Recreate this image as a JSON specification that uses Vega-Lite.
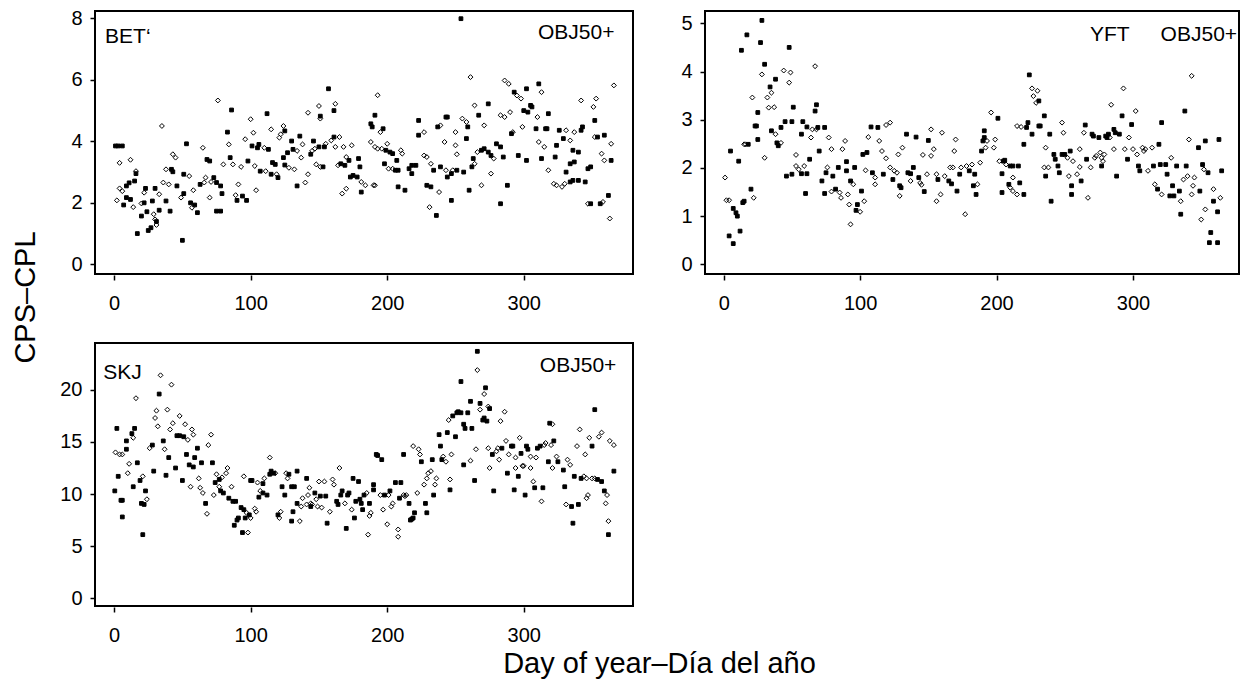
{
"$schema": "https://vega.github.io/schema/vega-lite/v6.json",
"background": "white",
"padding": {"left": 10, "top": 7, "right": 0, "bottom": 0},
"bounds": "flush",
"columns": 2,
"spacing": {"row": 69, "column": 72},
"datasets": {
"one": [{}],
"bet": [
{"d":1,"v":3.85,"k":"s"},{"d":3,"v":3.85,"k":"s"},{"d":6,"v":3.85,"k":"s"},{"d":4,"v":3.3,"k":"o"},{"d":12,"v":3.4,"k":"o"},{"d":2,"v":2.08,"k":"o"},{"d":4,"v":2.47,"k":"o"},{"d":6,"v":2.38,"k":"o"},{"d":7,"v":1.93,"k":"s"},{"d":9,"v":2.55,"k":"s"},{"d":11,"v":2.65,"k":"s"},{"d":9,"v":2.17,"k":"s"},{"d":12,"v":2.11,"k":"s"},{"d":14,"v":1.86,"k":"o"},{"d":15,"v":2.71,"k":"s"},{"d":16,"v":3.03,"k":"o"},{"d":16,"v":2.95,"k":"s"},{"d":17,"v":1.0,"k":"s"},{"d":20,"v":1.57,"k":"s"},{"d":20,"v":1.98,"k":"o"},{"d":22,"v":2.33,"k":"o"},{"d":23,"v":2.47,"k":"s"},{"d":22,"v":2.0,"k":"s"},{"d":24,"v":1.71,"k":"s"},{"d":25,"v":1.1,"k":"s"},{"d":27,"v":1.19,"k":"s"},{"d":28,"v":2.06,"k":"s"},{"d":29,"v":1.63,"k":"o"},{"d":30,"v":1.46,"k":"o"},{"d":31,"v":1.39,"k":"s"},{"d":31,"v":1.28,"k":"o"},{"d":30,"v":2.47,"k":"s"},{"d":33,"v":2.28,"k":"o"},{"d":33,"v":1.76,"k":"s"},{"d":35,"v":4.5,"k":"o"},{"d":36,"v":2.66,"k":"o"},{"d":38,"v":2.06,"k":"s"},{"d":38,"v":3.09,"k":"o"},{"d":40,"v":2.6,"k":"o"},{"d":41,"v":1.73,"k":"s"},{"d":42,"v":3.09,"k":"s"},{"d":43,"v":3.58,"k":"o"},{"d":45,"v":3.47,"k":"o"},{"d":46,"v":2.55,"k":"s"},{"d":43,"v":3.01,"k":"s"},{"d":49,"v":2.17,"k":"o"},{"d":50,"v":0.78,"k":"s"},{"d":51,"v":2.93,"k":"s"},{"d":51,"v":2.3,"k":"s"},{"d":53,"v":3.92,"k":"s"},{"d":55,"v":2.87,"k":"o"},{"d":56,"v":2.0,"k":"s"},{"d":57,"v":1.84,"k":"o"},{"d":59,"v":1.93,"k":"s"},{"d":61,"v":1.68,"k":"s"},{"d":58,"v":2.41,"k":"o"},{"d":63,"v":2.6,"k":"s"},{"d":65,"v":3.79,"k":"o"},{"d":66,"v":2.66,"k":"o"},{"d":67,"v":2.82,"k":"o"},{"d":68,"v":3.41,"k":"s"},{"d":70,"v":3.36,"k":"s"},{"d":70,"v":2.17,"k":"o"},{"d":71,"v":2.68,"k":"o"},{"d":73,"v":2.82,"k":"s"},{"d":75,"v":2.66,"k":"s"},{"d":76,"v":5.33,"k":"o"},{"d":75,"v":1.73,"k":"s"},{"d":78,"v":1.73,"k":"s"},{"d":78,"v":2.55,"k":"s"},{"d":79,"v":2.3,"k":"s"},{"d":80,"v":3.25,"k":"o"},{"d":83,"v":4.3,"k":"s"},{"d":84,"v":3.9,"k":"o"},{"d":86,"v":5.02,"k":"s"},{"d":85,"v":3.47,"k":"s"},{"d":87,"v":3.25,"k":"o"},{"d":89,"v":2.25,"k":"o"},{"d":91,"v":2.6,"k":"o"},{"d":90,"v":2.08,"k":"s"},{"d":93,"v":3.17,"k":"o"},{"d":94,"v":2.22,"k":"s"},{"d":96,"v":4.07,"k":"o"},{"d":97,"v":2.08,"k":"s"},{"d":98,"v":3.36,"k":"s"},{"d":100,"v":4.72,"k":"o"},{"d":101,"v":3.85,"k":"s"},{"d":102,"v":4.28,"k":"o"},{"d":103,"v":3.2,"k":"o"},{"d":104,"v":2.41,"k":"o"},{"d":105,"v":3.79,"k":"s"},{"d":106,"v":3.9,"k":"s"},{"d":107,"v":3.03,"k":"s"},{"d":110,"v":3.79,"k":"o"},{"d":111,"v":3.03,"k":"o"},{"d":112,"v":4.9,"k":"s"},{"d":113,"v":3.74,"k":"s"},{"d":115,"v":2.93,"k":"s"},{"d":116,"v":3.31,"k":"s"},{"d":115,"v":4.39,"k":"o"},{"d":118,"v":3.25,"k":"s"},{"d":119,"v":2.93,"k":"o"},{"d":120,"v":2.82,"k":"s"},{"d":121,"v":4.12,"k":"o"},{"d":122,"v":4.23,"k":"o"},{"d":124,"v":4.5,"k":"o"},{"d":125,"v":4.34,"k":"s"},{"d":124,"v":3.47,"k":"s"},{"d":125,"v":3.23,"k":"s"},{"d":127,"v":3.63,"k":"s"},{"d":128,"v":3.14,"k":"o"},{"d":130,"v":4.01,"k":"s"},{"d":131,"v":3.74,"k":"s"},{"d":132,"v":3.09,"k":"o"},{"d":134,"v":2.55,"k":"s"},{"d":134,"v":3.69,"k":"o"},{"d":136,"v":4.17,"k":"s"},{"d":137,"v":3.47,"k":"o"},{"d":138,"v":3.9,"k":"o"},{"d":140,"v":2.66,"k":"o"},{"d":142,"v":2.93,"k":"o"},{"d":142,"v":4.93,"k":"o"},{"d":144,"v":3.58,"k":"s"},{"d":145,"v":3.69,"k":"o"},{"d":146,"v":4.01,"k":"s"},{"d":148,"v":3.25,"k":"o"},{"d":150,"v":5.15,"k":"o"},{"d":151,"v":4.82,"k":"s"},{"d":147,"v":3.76,"k":"o"},{"d":150,"v":3.82,"k":"s"},{"d":151,"v":3.17,"k":"o"},{"d":151,"v":4.74,"k":"o"},
{"d":153,"v":3.17,"k":"s"},{"d":154,"v":3.82,"k":"s"},{"d":155,"v":3.92,"k":"o"},{"d":157,"v":5.71,"k":"s"},{"d":159,"v":4.03,"k":"o"},{"d":161,"v":4.14,"k":"s"},{"d":161,"v":5.0,"k":"s"},{"d":162,"v":5.22,"k":"o"},{"d":162,"v":3.82,"k":"o"},{"d":165,"v":4.14,"k":"o"},{"d":168,"v":3.82,"k":"o"},{"d":164,"v":3.22,"k":"o"},{"d":166,"v":3.27,"k":"s"},{"d":169,"v":3.22,"k":"s"},{"d":172,"v":3.38,"k":"s"},{"d":170,"v":3.49,"k":"o"},{"d":174,"v":3.87,"k":"o"},{"d":173,"v":2.84,"k":"s"},{"d":175,"v":2.89,"k":"s"},{"d":178,"v":2.84,"k":"s"},{"d":179,"v":3.44,"k":"s"},{"d":180,"v":3.17,"k":"s"},{"d":181,"v":2.68,"k":"o"},{"d":184,"v":2.57,"k":"o"},{"d":167,"v":2.3,"k":"o"},{"d":170,"v":2.46,"k":"o"},{"d":181,"v":2.35,"k":"s"},{"d":190,"v":2.57,"k":"o"},{"d":191,"v":2.57,"k":"o"},{"d":193,"v":5.5,"k":"o"},{"d":191,"v":4.85,"k":"s"},{"d":188,"v":4.57,"k":"s"},{"d":189,"v":4.47,"k":"s"},{"d":195,"v":4.3,"k":"o"},{"d":197,"v":4.41,"k":"s"},{"d":188,"v":3.98,"k":"o"},{"d":191,"v":3.82,"k":"o"},{"d":193,"v":3.76,"k":"o"},{"d":196,"v":3.76,"k":"o"},{"d":200,"v":3.92,"k":"o"},{"d":199,"v":3.71,"k":"s"},{"d":202,"v":3.65,"k":"s"},{"d":204,"v":3.6,"k":"s"},{"d":207,"v":3.38,"k":"s"},{"d":210,"v":3.71,"k":"o"},{"d":211,"v":3.6,"k":"o"},{"d":198,"v":3.27,"k":"s"},{"d":201,"v":3.11,"k":"o"},{"d":204,"v":3.11,"k":"o"},{"d":206,"v":3.06,"k":"s"},{"d":208,"v":3.06,"k":"s"},{"d":208,"v":2.52,"k":"s"},{"d":213,"v":2.41,"k":"s"},{"d":216,"v":3.11,"k":"s"},{"d":218,"v":2.95,"k":"s"},{"d":218,"v":3.22,"k":"s"},{"d":221,"v":3.22,"k":"s"},{"d":223,"v":4.68,"k":"s"},{"d":223,"v":4.2,"k":"s"},{"d":227,"v":4.3,"k":"o"},{"d":229,"v":2.57,"k":"s"},{"d":232,"v":2.52,"k":"s"},{"d":227,"v":3.54,"k":"o"},{"d":229,"v":3.49,"k":"o"},{"d":232,"v":3.27,"k":"o"},{"d":234,"v":3.06,"k":"s"},{"d":237,"v":4.47,"k":"s"},{"d":239,"v":4.52,"k":"o"},{"d":242,"v":3.98,"k":"o"},{"d":243,"v":4.79,"k":"s"},{"d":244,"v":4.79,"k":"s"},{"d":250,"v":4.3,"k":"o"},{"d":250,"v":3.87,"k":"o"},{"d":251,"v":3.58,"k":"o"},{"d":239,"v":3.17,"k":"s"},{"d":243,"v":3.06,"k":"o"},{"d":244,"v":2.84,"k":"s"},{"d":247,"v":2.95,"k":"s"},{"d":248,"v":3.06,"k":"o"},{"d":251,"v":3.06,"k":"s"},{"d":256,"v":3.0,"k":"s"},{"d":231,"v":1.86,"k":"o"},{"d":236,"v":1.59,"k":"s"},{"d":238,"v":2.35,"k":"o"},{"d":247,"v":2.08,"k":"s"},{"d":260,"v":2.41,"k":"s"},{"d":269,"v":2.57,"k":"o"},{"d":261,"v":6.09,"k":"o"},{"d":254,"v":7.99,"k":"s"},{"d":255,"v":4.74,"k":"o"},{"d":258,"v":4.63,"k":"o"},{"d":259,"v":4.47,"k":"s"},{"d":258,"v":4.09,"k":"s"},{"d":264,"v":5.17,"k":"o"},{"d":267,"v":4.85,"k":"s"},{"d":271,"v":4.52,"k":"o"},{"d":274,"v":5.22,"k":"s"},{"d":266,"v":3.65,"k":"o"},{"d":269,"v":3.71,"k":"s"},{"d":271,"v":3.76,"k":"s"},{"d":274,"v":3.65,"k":"s"},{"d":276,"v":3.54,"k":"s"},{"d":278,"v":3.44,"k":"o"},{"d":263,"v":3.44,"k":"s"},{"d":264,"v":3.27,"k":"o"},{"d":262,"v":3.17,"k":"s"},{"d":276,"v":2.95,"k":"o"},{"d":280,"v":3.92,"k":"s"},{"d":283,"v":3.82,"k":"s"},{"d":285,"v":3.49,"k":"s"},{"d":283,"v":1.97,"k":"s"},{"d":283,"v":4.85,"k":"o"},{"d":286,"v":4.79,"k":"o"},{"d":286,"v":5.98,"k":"o"},{"d":289,"v":5.87,"k":"o"},{"d":290,"v":4.95,"k":"o"},{"d":288,"v":2.57,"k":"s"},{"d":291,"v":4.25,"k":"s"},{"d":292,"v":4.3,"k":"o"},{"d":293,"v":5.6,"k":"s"},{"d":295,"v":5.49,"k":"o"},{"d":298,"v":5.39,"k":"o"},{"d":299,"v":4.47,"k":"o"},{"d":296,"v":3.54,"k":"s"},{"d":300,"v":5.0,"k":"s"},{"d":302,"v":5.71,"k":"s"},{"d":303,"v":4.95,"k":"s"},{"d":305,"v":5.17,"k":"s"},{"d":306,"v":5.12,"k":"s"},{"d":311,"v":5.87,"k":"s"},{"d":313,"v":5.6,"k":"o"},{"d":310,"v":4.79,"k":"o"},{"d":302,"v":3.38,"k":"s"},{"d":309,"v":4.41,"k":"s"},{"d":311,"v":3.98,"k":"o"},{"d":313,"v":3.44,"k":"s"},{"d":315,"v":3.82,"k":"o"},{"d":316,"v":4.41,"k":"s"},{"d":318,"v":4.9,"k":"s"},{"d":317,"v":4.41,"k":"s"},{"d":318,"v":3.06,"k":"o"},{"d":323,"v":3.49,"k":"s"},{"d":324,"v":3.87,"k":"s"},{"d":326,"v":4.36,"k":"s"},{"d":329,"v":4.09,"k":"s"},{"d":331,"v":4.36,"k":"o"},{"d":334,"v":4.03,"k":"o"},{"d":336,"v":3.71,"k":"s"},{"d":337,"v":4.3,"k":"o"},{"d":342,"v":4.36,"k":"s"},{"d":343,"v":4.47,"k":"s"},{"d":322,"v":2.62,"k":"o"},{"d":324,"v":2.57,"k":"o"},{"d":328,"v":2.52,"k":"o"},{"d":330,"v":2.62,"k":"o"},{"d":334,"v":2.68,"k":"s"},{"d":336,"v":2.73,"k":"s"},{"d":340,"v":2.73,"k":"s"},{"d":345,"v":2.68,"k":"s"},{"d":331,"v":3.0,"k":"s"},{"d":334,"v":3.27,"k":"s"},{"d":337,"v":3.33,"k":"s"},{"d":340,"v":3.65,"k":"s"},{"d":347,"v":1.97,"k":"o"},{"d":349,"v":1.97,"k":"s"},{"d":356,"v":1.97,"k":"s"},{"d":358,"v":2.03,"k":"o"},{"d":362,"v":2.24,"k":"s"},{"d":363,"v":1.49,"k":"o"},{"d":342,"v":5.33,"k":"o"},{"d":351,"v":5.12,"k":"o"},{"d":353,"v":5.39,"k":"o"},{"d":352,"v":4.68,"k":"s"},{"d":352,"v":4.14,"k":"o"},{"d":354,"v":4.14,"k":"s"},{"d":359,"v":4.2,"k":"s"},{"d":357,"v":3.6,"k":"o"},{"d":359,"v":3.38,"k":"o"},{"d":364,"v":3.38,"k":"s"},{"d":366,"v":5.82,"k":"o"},{"d":364,"v":3.92,"k":"o"},{"d":349,"v":3.17,"k":"s"},{"d":347,"v":3.11,"k":"s"}
],
"yft": [
{"d":1,"v":1.8,"k":"o"},{"d":2,"v":1.33,"k":"o"},{"d":4,"v":1.33,"k":"o"},{"d":4,"v":0.59,"k":"s"},{"d":5,"v":2.35,"k":"s"},{"d":7,"v":0.43,"k":"s"},{"d":7,"v":1.16,"k":"s"},{"d":9,"v":1.07,"k":"s"},{"d":10,"v":1.0,"k":"s"},{"d":11,"v":2.14,"k":"s"},{"d":12,"v":0.69,"k":"s"},{"d":13,"v":4.44,"k":"s"},{"d":14,"v":1.28,"k":"s"},{"d":15,"v":1.31,"k":"s"},{"d":15,"v":2.49,"k":"o"},{"d":16,"v":2.49,"k":"o"},{"d":17,"v":4.76,"k":"s"},{"d":18,"v":2.49,"k":"s"},{"d":20,"v":1.56,"k":"s"},{"d":21,"v":3.46,"k":"o"},{"d":22,"v":1.38,"k":"o"},{"d":23,"v":2.87,"k":"s"},{"d":24,"v":2.87,"k":"s"},{"d":25,"v":3.15,"k":"s"},{"d":25,"v":2.59,"k":"s"},{"d":27,"v":4.6,"k":"s"},{"d":28,"v":5.06,"k":"s"},{"d":28,"v":3.94,"k":"o"},{"d":30,"v":4.15,"k":"s"},{"d":30,"v":2.21,"k":"o"},{"d":32,"v":3.46,"k":"o"},{"d":33,"v":3.25,"k":"o"},{"d":34,"v":3.68,"k":"s"},{"d":35,"v":3.56,"k":"o"},{"d":37,"v":3.26,"k":"o"},{"d":38,"v":3.84,"k":"s"},{"d":35,"v":2.77,"k":"s"},{"d":38,"v":2.7,"k":"o"},{"d":39,"v":2.52,"k":"s"},{"d":40,"v":2.46,"k":"s"},{"d":42,"v":2.52,"k":"o"},{"d":42,"v":2.84,"k":"s"},{"d":44,"v":4.02,"k":"o"},{"d":45,"v":2.96,"k":"s"},{"d":46,"v":1.83,"k":"s"},{"d":48,"v":4.5,"k":"s"},{"d":49,"v":3.98,"k":"o"},{"d":48,"v":3.77,"k":"o"},{"d":50,"v":2.96,"k":"s"},{"d":50,"v":1.87,"k":"s"},{"d":51,"v":3.26,"k":"s"},{"d":53,"v":2.27,"k":"o"},{"d":53,"v":2.04,"k":"o"},{"d":55,"v":1.97,"k":"o"},{"d":57,"v":2.7,"k":"s"},{"d":57,"v":1.88,"k":"s"},{"d":58,"v":2.96,"k":"s"},{"d":59,"v":2.04,"k":"o"},{"d":60,"v":1.47,"k":"s"},{"d":61,"v":2.85,"k":"s"},{"d":61,"v":1.88,"k":"s"},{"d":63,"v":2.18,"k":"s"},{"d":64,"v":2.63,"k":"o"},{"d":65,"v":2.8,"k":"o"},{"d":67,"v":4.11,"k":"o"},{"d":68,"v":3.31,"k":"s"},{"d":67,"v":3.18,"k":"s"},{"d":68,"v":2.8,"k":"o"},{"d":69,"v":2.84,"k":"s"},{"d":70,"v":2.35,"k":"s"},{"d":72,"v":1.73,"k":"s"},{"d":74,"v":2.84,"k":"s"},{"d":74,"v":1.47,"k":"s"},{"d":75,"v":1.9,"k":"s"},{"d":76,"v":2.01,"k":"o"},{"d":77,"v":2.63,"k":"o"},{"d":79,"v":2.39,"k":"o"},{"d":79,"v":1.51,"k":"o"},{"d":80,"v":1.83,"k":"s"},{"d":82,"v":1.56,"k":"s"},{"d":84,"v":2.01,"k":"s"},{"d":85,"v":1.49,"k":"o"},{"d":86,"v":1.38,"k":"o"},{"d":87,"v":2.39,"k":"o"},{"d":89,"v":2.56,"k":"o"},{"d":90,"v":2.13,"k":"s"},{"d":90,"v":1.94,"k":"s"},{"d":91,"v":1.45,"k":"o"},{"d":92,"v":1.24,"k":"o"},{"d":93,"v":0.83,"k":"o"},{"d":93,"v":1.73,"k":"s"},{"d":95,"v":1.66,"k":"o"},{"d":96,"v":2.01,"k":"s"},{"d":97,"v":1.12,"k":"s"},{"d":98,"v":1.24,"k":"s"},{"d":100,"v":1.09,"k":"o"},{"d":101,"v":1.52,"k":"s"},{"d":102,"v":2.28,"k":"s"},{"d":103,"v":1.31,"k":"o"},{"d":104,"v":1.95,"k":"o"},{"d":105,"v":2.32,"k":"s"},{"d":106,"v":2.64,"k":"o"},{"d":108,"v":2.85,"k":"s"},{"d":109,"v":1.9,"k":"s"},{"d":111,"v":1.8,"k":"o"},{"d":111,"v":1.66,"k":"o"},{"d":113,"v":2.84,"k":"s"},{"d":114,"v":2.56,"k":"o"},{"d":116,"v":2.35,"k":"o"},{"d":117,"v":1.87,"k":"s"},{"d":119,"v":2.2,"k":"o"},{"d":119,"v":2.89,"k":"o"},{"d":122,"v":2.94,"k":"o"},{"d":122,"v":2.01,"k":"o"},{"d":124,"v":1.76,"k":"s"},{"d":125,"v":1.94,"k":"o"},{"d":127,"v":1.9,"k":"o"},{"d":129,"v":1.63,"k":"s"},{"d":129,"v":1.42,"k":"o"},{"d":130,"v":1.59,"k":"s"},{"d":128,"v":2.28,"k":"o"},{"d":131,"v":2.42,"k":"o"},{"d":134,"v":2.7,"k":"s"},{"d":135,"v":1.9,"k":"s"},{"d":137,"v":1.88,"k":"s"},{"d":139,"v":2.01,"k":"s"},{"d":137,"v":1.73,"k":"o"},{"d":141,"v":2.64,"k":"s"},{"d":143,"v":1.8,"k":"s"},{"d":144,"v":1.69,"k":"o"},{"d":145,"v":1.65,"k":"o"},{"d":146,"v":2.27,"k":"o"},{"d":147,"v":1.51,"k":"s"},{"d":149,"v":1.87,"k":"o"},{"d":150,"v":2.57,"k":"s"},{"d":152,"v":2.25,"k":"o"},{"d":152,"v":2.8,"k":"o"},{"d":154,"v":2.39,"k":"o"},{"d":156,"v":1.87,"k":"o"},{"d":156,"v":1.31,"k":"o"},{"d":157,"v":1.76,"k":"s"},{"d":159,"v":1.45,"k":"o"},{"d":160,"v":2.73,"k":"o"},{"d":162,"v":1.83,"k":"o"},{"d":165,"v":1.73,"k":"s"},{"d":166,"v":2.01,"k":"o"},{"d":167,"v":1.67,"k":"s"},{"d":168,"v":2.01,"k":"o"},{"d":169,"v":2.35,"k":"o"},{"d":170,"v":2.59,"k":"o"},{"d":171,"v":1.52,"k":"s"},{"d":173,"v":1.87,"k":"s"},{"d":174,"v":2.01,"k":"o"},{"d":177,"v":1.04,"k":"o"},{"d":178,"v":2.04,"k":"o"},{"d":180,"v":1.94,"k":"s"},{"d":182,"v":2.07,"k":"o"},
{"d":183,"v":1.63,"k":"s"},{"d":184,"v":1.87,"k":"s"},{"d":185,"v":1.45,"k":"s"},{"d":186,"v":1.66,"k":"o"},{"d":188,"v":2.11,"k":"o"},{"d":189,"v":2.35,"k":"s"},{"d":190,"v":2.56,"k":"s"},{"d":191,"v":2.63,"k":"s"},{"d":191,"v":2.77,"k":"s"},{"d":192,"v":2.42,"k":"o"},{"d":193,"v":2.56,"k":"o"},{"d":196,"v":3.15,"k":"o"},{"d":198,"v":2.42,"k":"o"},{"d":199,"v":2.59,"k":"o"},{"d":201,"v":3.03,"k":"s"},{"d":202,"v":2.14,"k":"o"},{"d":204,"v":1.88,"k":"s"},{"d":205,"v":2.14,"k":"s"},{"d":206,"v":2.16,"k":"s"},{"d":207,"v":2.07,"k":"o"},{"d":210,"v":2.04,"k":"s"},{"d":212,"v":2.04,"k":"s"},{"d":212,"v":1.8,"k":"o"},{"d":204,"v":1.49,"k":"s"},{"d":209,"v":1.66,"k":"s"},{"d":210,"v":1.59,"k":"o"},{"d":212,"v":1.52,"k":"o"},{"d":215,"v":1.45,"k":"o"},{"d":217,"v":1.69,"k":"s"},{"d":220,"v":1.45,"k":"s"},{"d":216,"v":2.04,"k":"s"},{"d":215,"v":2.87,"k":"o"},{"d":218,"v":2.85,"k":"o"},{"d":220,"v":2.49,"k":"s"},{"d":222,"v":2.84,"k":"s"},{"d":223,"v":2.94,"k":"s"},{"d":224,"v":3.93,"k":"s"},{"d":226,"v":3.65,"k":"o"},{"d":227,"v":3.49,"k":"o"},{"d":229,"v":3.35,"k":"o"},{"d":230,"v":3.6,"k":"o"},{"d":231,"v":3.39,"k":"s"},{"d":226,"v":2.7,"k":"s"},{"d":231,"v":2.87,"k":"s"},{"d":235,"v":3.08,"k":"s"},{"d":232,"v":2.87,"k":"s"},{"d":236,"v":2.42,"k":"o"},{"d":239,"v":2.7,"k":"s"},{"d":235,"v":2.01,"k":"o"},{"d":238,"v":2.01,"k":"o"},{"d":236,"v":1.83,"k":"s"},{"d":240,"v":1.31,"k":"s"},{"d":242,"v":2.28,"k":"s"},{"d":243,"v":2.18,"k":"s"},{"d":245,"v":2.04,"k":"s"},{"d":246,"v":1.9,"k":"s"},{"d":248,"v":2.28,"k":"s"},{"d":248,"v":2.94,"k":"o"},{"d":249,"v":2.73,"k":"o"},{"d":250,"v":2.28,"k":"s"},{"d":252,"v":2.21,"k":"o"},{"d":253,"v":1.83,"k":"o"},{"d":254,"v":2.35,"k":"s"},{"d":255,"v":1.45,"k":"s"},{"d":255,"v":1.63,"k":"s"},{"d":256,"v":2.14,"k":"o"},{"d":259,"v":1.87,"k":"o"},{"d":261,"v":2.39,"k":"o"},{"d":261,"v":2.02,"k":"o"},{"d":262,"v":1.73,"k":"s"},{"d":264,"v":2.73,"k":"o"},{"d":265,"v":2.89,"k":"s"},{"d":266,"v":2.18,"k":"s"},{"d":267,"v":1.38,"k":"o"},{"d":269,"v":2.01,"k":"o"},{"d":270,"v":2.7,"k":"s"},{"d":271,"v":2.66,"k":"s"},{"d":272,"v":2.21,"k":"o"},{"d":273,"v":2.25,"k":"o"},{"d":275,"v":2.63,"k":"s"},{"d":276,"v":2.32,"k":"o"},{"d":277,"v":2.04,"k":"s"},{"d":277,"v":2.21,"k":"o"},{"d":278,"v":2.14,"k":"o"},{"d":279,"v":2.28,"k":"o"},{"d":280,"v":2.66,"k":"s"},{"d":281,"v":2.63,"k":"s"},{"d":282,"v":2.7,"k":"s"},{"d":283,"v":2.63,"k":"o"},{"d":284,"v":3.31,"k":"o"},{"d":286,"v":2.8,"k":"s"},{"d":286,"v":2.39,"k":"o"},{"d":287,"v":2.73,"k":"s"},{"d":288,"v":1.83,"k":"s"},{"d":290,"v":2.7,"k":"s"},{"d":292,"v":3.08,"k":"s"},{"d":293,"v":3.65,"k":"o"},{"d":294,"v":2.39,"k":"o"},{"d":296,"v":2.18,"k":"s"},{"d":297,"v":2.63,"k":"o"},{"d":299,"v":2.9,"k":"s"},{"d":302,"v":3.18,"k":"o"},{"d":300,"v":2.39,"k":"o"},{"d":303,"v":2.28,"k":"o"},{"d":304,"v":2.04,"k":"s"},{"d":305,"v":1.94,"k":"s"},{"d":307,"v":2.42,"k":"o"},{"d":308,"v":2.35,"k":"o"},{"d":309,"v":2.39,"k":"o"},{"d":311,"v":1.94,"k":"o"},{"d":314,"v":2.42,"k":"o"},{"d":315,"v":2.04,"k":"s"},{"d":316,"v":1.66,"k":"o"},{"d":318,"v":1.56,"k":"s"},{"d":319,"v":2.49,"k":"s"},{"d":320,"v":2.07,"k":"s"},{"d":321,"v":1.45,"k":"o"},{"d":321,"v":2.94,"k":"s"},{"d":324,"v":2.07,"k":"s"},{"d":325,"v":1.87,"k":"s"},{"d":327,"v":1.42,"k":"s"},{"d":328,"v":2.21,"k":"o"},{"d":329,"v":1.63,"k":"s"},{"d":330,"v":1.42,"k":"s"},{"d":332,"v":2.04,"k":"s"},{"d":334,"v":1.52,"k":"s"},{"d":335,"v":1.31,"k":"o"},{"d":335,"v":1.04,"k":"s"},{"d":337,"v":1.76,"k":"o"},{"d":338,"v":3.18,"k":"s"},{"d":339,"v":2.04,"k":"s"},{"d":340,"v":1.83,"k":"o"},{"d":341,"v":2.59,"k":"o"},{"d":343,"v":3.91,"k":"o"},{"d":343,"v":1.45,"k":"o"},{"d":344,"v":1.63,"k":"o"},{"d":345,"v":1.8,"k":"o"},{"d":348,"v":2.42,"k":"s"},{"d":349,"v":1.52,"k":"s"},{"d":350,"v":0.93,"k":"o"},{"d":351,"v":2.07,"k":"s"},{"d":352,"v":1.97,"k":"o"},{"d":353,"v":2.56,"k":"s"},{"d":353,"v":1.14,"k":"o"},{"d":355,"v":1.9,"k":"s"},{"d":357,"v":0.66,"k":"s"},{"d":356,"v":0.45,"k":"s"},{"d":359,"v":1.56,"k":"o"},{"d":359,"v":1.31,"k":"s"},{"d":362,"v":1.09,"k":"s"},{"d":362,"v":0.45,"k":"s"},{"d":363,"v":2.59,"k":"s"},{"d":364,"v":1.38,"k":"o"},{"d":365,"v":1.94,"k":"s"}
],
"skj": [
{"d":0.5,"v":10.3,"k":"s"},{"d":2,"v":16.3,"k":"s"},{"d":1,"v":14.0,"k":"o"},{"d":4,"v":13.8,"k":"o"},{"d":3,"v":11.7,"k":"s"},{"d":5,"v":9.4,"k":"s"},{"d":6,"v":9.4,"k":"s"},{"d":6,"v":7.8,"k":"s"},{"d":6,"v":13.8,"k":"o"},{"d":9,"v":14.3,"k":"s"},{"d":9,"v":15.1,"k":"s"},{"d":10,"v":12.0,"k":"o"},{"d":11,"v":12.9,"k":"o"},{"d":13,"v":15.8,"k":"s"},{"d":14,"v":10.7,"k":"s"},{"d":14,"v":15.4,"k":"o"},{"d":15,"v":16.3,"k":"s"},{"d":16,"v":19.2,"k":"o"},{"d":17,"v":13.0,"k":"s"},{"d":19,"v":11.3,"k":"s"},{"d":20,"v":9.1,"k":"s"},{"d":21,"v":6.1,"k":"s"},{"d":21,"v":11.7,"k":"o"},{"d":22,"v":9.0,"k":"s"},{"d":24,"v":9.5,"k":"o"},{"d":23,"v":10.3,"k":"s"},{"d":26,"v":14.4,"k":"o"},{"d":28,"v":14.7,"k":"s"},{"d":29,"v":12.2,"k":"s"},{"d":30,"v":17.3,"k":"o"},{"d":31,"v":18.0,"k":"o"},{"d":32,"v":16.5,"k":"o"},{"d":33,"v":19.6,"k":"s"},{"d":34,"v":21.4,"k":"o"},{"d":36,"v":15.1,"k":"s"},{"d":37,"v":14.3,"k":"o"},{"d":38,"v":11.8,"k":"s"},{"d":39,"v":18.1,"k":"o"},{"d":40,"v":13.5,"k":"s"},{"d":41,"v":16.2,"k":"o"},{"d":42,"v":20.5,"k":"o"},{"d":43,"v":16.8,"k":"o"},{"d":45,"v":12.5,"k":"s"},{"d":46,"v":15.6,"k":"s"},{"d":48,"v":17.5,"k":"o"},{"d":48,"v":15.6,"k":"s"},{"d":50,"v":11.3,"k":"s"},{"d":51,"v":15.5,"k":"s"},{"d":52,"v":16.7,"k":"o"},{"d":53,"v":13.8,"k":"s"},{"d":54,"v":15.2,"k":"o"},{"d":55,"v":12.8,"k":"s"},{"d":56,"v":10.7,"k":"o"},{"d":57,"v":16.2,"k":"o"},{"d":58,"v":12.6,"k":"s"},{"d":58,"v":15.7,"k":"o"},{"d":59,"v":13.5,"k":"s"},{"d":61,"v":14.4,"k":"s"},{"d":62,"v":11.5,"k":"o"},{"d":63,"v":10.6,"k":"o"},{"d":64,"v":13.0,"k":"s"},{"d":65,"v":10.1,"k":"o"},{"d":67,"v":9.1,"k":"s"},{"d":68,"v":8.1,"k":"o"},{"d":69,"v":14.7,"k":"o"},{"d":71,"v":15.7,"k":"o"},{"d":72,"v":13.0,"k":"s"},{"d":73,"v":9.9,"k":"o"},{"d":74,"v":11.1,"k":"s"},{"d":75,"v":11.9,"k":"o"},{"d":77,"v":11.4,"k":"s"},{"d":77,"v":10.7,"k":"o"},{"d":78,"v":10.3,"k":"s"},{"d":79,"v":11.6,"k":"o"},{"d":80,"v":10.1,"k":"s"},{"d":82,"v":12.0,"k":"o"},{"d":83,"v":12.5,"k":"o"},{"d":84,"v":9.6,"k":"s"},{"d":86,"v":10.7,"k":"o"},{"d":87,"v":9.3,"k":"s"},{"d":89,"v":9.3,"k":"s"},{"d":88,"v":7.0,"k":"s"},{"d":90,"v":7.5,"k":"s"},{"d":91,"v":7.7,"k":"s"},{"d":93,"v":8.7,"k":"s"},{"d":94,"v":6.3,"k":"s"},{"d":95,"v":11.7,"k":"o"},{"d":95,"v":8.5,"k":"s"},{"d":96,"v":7.7,"k":"s"},{"d":97,"v":8.2,"k":"o"},{"d":98,"v":6.3,"k":"o"},{"d":99,"v":8.0,"k":"s"},{"d":100,"v":7.7,"k":"o"},{"d":100,"v":11.3,"k":"s"},{"d":101,"v":11.3,"k":"s"},{"d":103,"v":8.6,"k":"o"},{"d":104,"v":8.3,"k":"o"},{"d":105,"v":11.1,"k":"o"},{"d":106,"v":9.7,"k":"s"},{"d":107,"v":10.3,"k":"o"},{"d":109,"v":11.0,"k":"s"},{"d":109,"v":10.1,"k":"s"},{"d":110,"v":11.5,"k":"o"},{"d":112,"v":9.9,"k":"s"},{"d":114,"v":11.9,"k":"s"},{"d":114,"v":13.5,"k":"o"},{"d":115,"v":12.2,"k":"s"},{"d":117,"v":12.0,"k":"s"},{"d":118,"v":12.0,"k":"o"},{"d":120,"v":8.0,"k":"s"},{"d":121,"v":7.7,"k":"o"},{"d":122,"v":8.3,"k":"o"},{"d":123,"v":10.7,"k":"s"},{"d":125,"v":9.9,"k":"s"},{"d":126,"v":12.0,"k":"o"},{"d":127,"v":11.5,"k":"o"},{"d":128,"v":11.9,"k":"s"},{"d":130,"v":10.7,"k":"s"},{"d":130,"v":7.4,"k":"s"},{"d":131,"v":8.3,"k":"s"},{"d":132,"v":10.7,"k":"s"},{"d":134,"v":9.1,"k":"s"},{"d":134,"v":12.2,"k":"s"},{"d":136,"v":7.4,"k":"o"},{"d":137,"v":8.8,"k":"o"},{"d":138,"v":9.6,"k":"o"},{"d":141,"v":11.5,"k":"s"},{"d":141,"v":9.0,"k":"o"},{"d":142,"v":9.9,"k":"o"},{"d":143,"v":10.6,"k":"o"},{"d":144,"v":9.1,"k":"o"},{"d":144,"v":8.8,"k":"s"},{"d":145,"v":9.0,"k":"o"},{"d":147,"v":10.1,"k":"s"},{"d":148,"v":9.5,"k":"o"},{"d":149,"v":8.8,"k":"o"},{"d":150,"v":11.2,"k":"o"},{"d":151,"v":9.8,"k":"s"},{"d":152,"v":8.7,"k":"o"},{"d":154,"v":11.2,"k":"o"},{"d":155,"v":9.8,"k":"s"},{"d":156,"v":7.2,"k":"s"},{"d":158,"v":8.3,"k":"o"},{"d":160,"v":11.4,"k":"o"},
{"d":161,"v":10.9,"k":"o"},{"d":163,"v":9.3,"k":"s"},{"d":164,"v":9.0,"k":"s"},{"d":165,"v":12.5,"k":"o"},{"d":166,"v":9.9,"k":"s"},{"d":167,"v":10.3,"k":"s"},{"d":169,"v":9.1,"k":"o"},{"d":170,"v":6.7,"k":"s"},{"d":171,"v":9.9,"k":"s"},{"d":172,"v":10.1,"k":"s"},{"d":174,"v":8.5,"k":"o"},{"d":175,"v":11.5,"k":"s"},{"d":176,"v":7.7,"k":"s"},{"d":177,"v":9.3,"k":"s"},{"d":179,"v":11.2,"k":"s"},{"d":180,"v":9.5,"k":"s"},{"d":181,"v":9.1,"k":"s"},{"d":182,"v":8.5,"k":"s"},{"d":183,"v":9.9,"k":"s"},{"d":185,"v":10.1,"k":"o"},{"d":186,"v":6.1,"k":"o"},{"d":187,"v":7.9,"k":"o"},{"d":187,"v":9.1,"k":"s"},{"d":188,"v":8.2,"k":"o"},{"d":190,"v":10.9,"k":"s"},{"d":190,"v":10.4,"k":"s"},{"d":192,"v":13.8,"k":"s"},{"d":193,"v":13.7,"k":"s"},{"d":195,"v":9.9,"k":"o"},{"d":196,"v":13.3,"k":"s"},{"d":197,"v":8.5,"k":"o"},{"d":198,"v":9.9,"k":"s"},{"d":200,"v":7.1,"k":"o"},{"d":201,"v":9.9,"k":"o"},{"d":202,"v":10.3,"k":"s"},{"d":203,"v":8.8,"k":"o"},{"d":204,"v":9.1,"k":"o"},{"d":206,"v":11.1,"k":"s"},{"d":208,"v":6.6,"k":"o"},{"d":208,"v":5.9,"k":"o"},{"d":209,"v":9.6,"k":"s"},{"d":210,"v":11.1,"k":"s"},{"d":212,"v":9.9,"k":"o"},{"d":213,"v":9.8,"k":"o"},{"d":214,"v":9.9,"k":"o"},{"d":216,"v":9.1,"k":"s"},{"d":217,"v":7.5,"k":"s"},{"d":218,"v":7.6,"k":"s"},{"d":219,"v":7.7,"k":"s"},{"d":220,"v":8.2,"k":"s"},{"d":222,"v":10.1,"k":"o"},{"d":212,"v":13.8,"k":"s"},{"d":219,"v":14.6,"k":"o"},{"d":223,"v":14.3,"k":"o"},{"d":224,"v":13.8,"k":"o"},{"d":225,"v":13.1,"k":"s"},{"d":227,"v":10.9,"k":"o"},{"d":228,"v":9.1,"k":"s"},{"d":229,"v":8.2,"k":"s"},{"d":229,"v":11.5,"k":"o"},{"d":230,"v":12.0,"k":"o"},{"d":232,"v":12.2,"k":"o"},{"d":233,"v":13.3,"k":"s"},{"d":234,"v":9.9,"k":"s"},{"d":235,"v":10.9,"k":"o"},{"d":236,"v":11.5,"k":"o"},{"d":238,"v":15.7,"k":"s"},{"d":239,"v":14.6,"k":"s"},{"d":240,"v":13.3,"k":"s"},{"d":241,"v":13.6,"k":"o"},{"d":243,"v":13.1,"k":"o"},{"d":244,"v":15.9,"k":"s"},{"d":245,"v":17.1,"k":"o"},{"d":246,"v":11.4,"k":"o"},{"d":246,"v":10.4,"k":"s"},{"d":247,"v":13.8,"k":"o"},{"d":248,"v":17.5,"k":"s"},{"d":250,"v":15.5,"k":"s"},{"d":251,"v":17.8,"k":"s"},{"d":252,"v":17.9,"k":"s"},{"d":254,"v":17.8,"k":"s"},{"d":254,"v":20.8,"k":"s"},{"d":256,"v":12.8,"k":"s"},{"d":256,"v":16.7,"k":"s"},{"d":257,"v":16.3,"k":"s"},{"d":259,"v":17.8,"k":"s"},{"d":261,"v":18.9,"k":"s"},{"d":261,"v":13.2,"k":"o"},{"d":262,"v":16.3,"k":"s"},{"d":264,"v":11.3,"k":"s"},{"d":265,"v":14.3,"k":"o"},{"d":266,"v":23.7,"k":"s"},{"d":266,"v":21.9,"k":"o"},{"d":268,"v":18.1,"k":"o"},{"d":268,"v":18.7,"k":"s"},{"d":270,"v":17.1,"k":"s"},{"d":271,"v":19.6,"k":"o"},{"d":272,"v":20.2,"k":"s"},{"d":271,"v":17.3,"k":"s"},{"d":273,"v":17.0,"k":"s"},{"d":274,"v":18.4,"k":"o"},{"d":275,"v":18.2,"k":"s"},{"d":274,"v":14.4,"k":"o"},{"d":275,"v":12.5,"k":"o"},{"d":277,"v":13.8,"k":"s"},{"d":278,"v":10.3,"k":"s"},{"d":280,"v":14.1,"k":"o"},{"d":281,"v":14.4,"k":"o"},{"d":282,"v":13.3,"k":"o"},{"d":283,"v":17.0,"k":"o"},{"d":284,"v":14.4,"k":"s"},{"d":286,"v":17.9,"k":"o"},{"d":287,"v":15.1,"k":"o"},{"d":288,"v":12.0,"k":"s"},{"d":289,"v":13.8,"k":"o"},{"d":291,"v":14.6,"k":"s"},{"d":292,"v":14.6,"k":"s"},{"d":293,"v":10.4,"k":"s"},{"d":294,"v":13.5,"k":"o"},{"d":294,"v":12.5,"k":"o"},{"d":296,"v":11.7,"k":"s"},{"d":297,"v":15.4,"k":"o"},{"d":298,"v":13.9,"k":"s"},{"d":299,"v":12.7,"k":"o"},{"d":300,"v":12.7,"k":"o"},{"d":301,"v":9.9,"k":"s"},{"d":302,"v":14.6,"k":"s"},{"d":303,"v":14.3,"k":"s"},{"d":305,"v":13.6,"k":"o"},{"d":305,"v":12.5,"k":"o"},{"d":307,"v":11.2,"k":"o"},{"d":308,"v":10.6,"k":"s"},{"d":309,"v":13.5,"k":"o"},{"d":310,"v":14.4,"k":"s"},{"d":312,"v":14.6,"k":"s"},{"d":313,"v":9.3,"k":"o"},{"d":314,"v":10.6,"k":"s"},{"d":315,"v":14.7,"k":"o"},{"d":316,"v":14.9,"k":"o"},{"d":318,"v":13.1,"k":"s"},{"d":319,"v":16.8,"k":"s"},{"d":320,"v":14.7,"k":"o"},{"d":321,"v":12.5,"k":"o"},{"d":322,"v":15.1,"k":"s"},{"d":321,"v":16.7,"k":"o"},{"d":324,"v":13.6,"k":"o"},{"d":325,"v":13.1,"k":"s"},{"d":329,"v":12.3,"k":"s"},{"d":330,"v":10.7,"k":"s"},{"d":331,"v":9.0,"k":"o"},{"d":332,"v":13.3,"k":"o"},{"d":334,"v":12.8,"k":"o"},{"d":335,"v":8.8,"k":"s"},{"d":336,"v":7.2,"k":"s"},{"d":337,"v":11.7,"k":"s"},{"d":339,"v":14.6,"k":"o"},{"d":340,"v":9.0,"k":"s"},{"d":341,"v":16.2,"k":"o"},{"d":342,"v":11.5,"k":"s"},{"d":344,"v":11.7,"k":"o"},{"d":345,"v":13.8,"k":"o"},{"d":346,"v":11.5,"k":"o"},{"d":346,"v":9.6,"k":"o"},{"d":347,"v":9.9,"k":"o"},{"d":348,"v":15.4,"k":"o"},{"d":350,"v":11.5,"k":"o"},{"d":350,"v":14.6,"k":"s"},{"d":352,"v":18.1,"k":"s"},{"d":352,"v":11.5,"k":"o"},{"d":354,"v":11.4,"k":"s"},{"d":355,"v":15.5,"k":"o"},{"d":357,"v":15.9,"k":"o"},{"d":357,"v":11.2,"k":"s"},{"d":359,"v":10.3,"k":"s"},{"d":360,"v":9.1,"k":"o"},{"d":361,"v":9.9,"k":"o"},{"d":362,"v":7.4,"k":"o"},{"d":362,"v":6.1,"k":"s"},{"d":363,"v":15.1,"k":"o"},{"d":366,"v":14.7,"k":"o"},{"d":366,"v":12.2,"k":"s"}
]
},
"concat": [
{
"width": 538, "height": 263,
"layer": [
{"data": {"name": "bet"}, "mark": {"type": "point", "strokeWidth": 1, "opacity": 1},
 "encoding": {
  "x": {"field": "d", "type": "quantitative", "scale": {"domain": [-14, 380], "nice": false, "zero": false}, "axis": {"title": null, "values": [0, 100, 200, 300]}},
  "y": {"field": "v", "type": "quantitative", "scale": {"domain": [-0.315, 8.24], "nice": false, "zero": false}, "axis": {"title": null, "values": [0, 2, 4, 6, 8]}},
  "shape": {"field": "k", "type": "nominal", "scale": {"domain": ["s", "o"], "range": ["square", "diamond"]}, "legend": null},
  "fill": {"field": "k", "type": "nominal", "scale": {"domain": ["s", "o"], "range": ["black", "transparent"]}, "legend": null},
  "size": {"field": "k", "type": "nominal", "scale": {"domain": ["s", "o"], "range": [14, 24]}, "legend": null},
  "stroke": {"value": "black"}
 }},
{"data": {"name": "one"}, "mark": {"type": "text", "align": "left", "baseline": "middle", "font": "Liberation Sans", "fontSize": 21, "fill": "black"},
 "encoding": {"x": {"datum": -6.6, "type": "quantitative", "axis": {"title": null, "values": [0, 100, 200, 300]}}, "y": {"datum": 7.39, "type": "quantitative", "axis": {"title": null, "values": [0, 2, 4, 6, 8]}}, "text": {"value": "BET‘"}}},
{"data": {"name": "one"}, "mark": {"type": "text", "align": "right", "baseline": "middle", "font": "Liberation Sans", "fontSize": 21, "fill": "black"},
 "encoding": {"x": {"datum": 366.4, "type": "quantitative", "axis": {"title": null, "values": [0, 100, 200, 300]}}, "y": {"datum": 7.52, "type": "quantitative", "axis": {"title": null, "values": [0, 2, 4, 6, 8]}}, "text": {"value": "OBJ50+"}}}
]
},
{
"width": 534, "height": 263,
"layer": [
{"data": {"name": "yft"}, "mark": {"type": "point", "strokeWidth": 1, "opacity": 1},
 "encoding": {
  "x": {"field": "d", "type": "quantitative", "scale": {"domain": [-13.7, 377.7], "nice": false, "zero": false}, "axis": {"title": null, "values": [0, 100, 200, 300]}},
  "y": {"field": "v", "type": "quantitative", "scale": {"domain": [-0.2, 5.255], "nice": false, "zero": false}, "axis": {"title": null, "values": [0, 1, 2, 3, 4, 5]}},
  "shape": {"field": "k", "type": "nominal", "scale": {"domain": ["s", "o"], "range": ["square", "diamond"]}, "legend": null},
  "fill": {"field": "k", "type": "nominal", "scale": {"domain": ["s", "o"], "range": ["black", "transparent"]}, "legend": null},
  "size": {"field": "k", "type": "nominal", "scale": {"domain": ["s", "o"], "range": [14, 24]}, "legend": null},
  "stroke": {"value": "black"}
 }},
{"data": {"name": "one"}, "mark": {"type": "text", "align": "left", "baseline": "middle", "font": "Liberation Sans", "fontSize": 21, "fill": "black"},
 "encoding": {"x": {"datum": 268.5, "type": "quantitative", "axis": {"title": null, "values": [0, 100, 200, 300]}}, "y": {"datum": 4.76, "type": "quantitative", "axis": {"title": null, "values": [0, 1, 2, 3, 4, 5]}}, "text": {"value": "YFT"}}},
{"data": {"name": "one"}, "mark": {"type": "text", "align": "right", "baseline": "middle", "font": "Liberation Sans", "fontSize": 21, "fill": "black"},
 "encoding": {"x": {"datum": 376.3, "type": "quantitative", "axis": {"title": null, "values": [0, 100, 200, 300]}}, "y": {"datum": 4.76, "type": "quantitative", "axis": {"title": null, "values": [0, 1, 2, 3, 4, 5]}}, "text": {"value": "OBJ50+"}}}
]
},
{
"width": 538, "height": 263,
"layer": [
{"data": {"name": "skj"}, "mark": {"type": "point", "strokeWidth": 1, "opacity": 1},
 "encoding": {
  "x": {"field": "d", "type": "quantitative", "scale": {"domain": [-14, 380], "nice": false, "zero": false}, "axis": {"title": "Day of year–Día del año", "values": [0, 100, 200, 300], "titleX": 564, "titleY": 65, "titleBaseline": "alphabetic", "titleAlign": "center"}},
  "y": {"field": "v", "type": "quantitative", "scale": {"domain": [-0.75, 24.5], "nice": false, "zero": false}, "axis": {"title": "CPS–CPL", "values": [0, 5, 10, 15, 20], "titleX": -60, "titleY": -46, "titleBaseline": "alphabetic", "titleAlign": "center", "titleAngle": -90}},
  "shape": {"field": "k", "type": "nominal", "scale": {"domain": ["s", "o"], "range": ["square", "diamond"]}, "legend": null},
  "fill": {"field": "k", "type": "nominal", "scale": {"domain": ["s", "o"], "range": ["black", "transparent"]}, "legend": null},
  "size": {"field": "k", "type": "nominal", "scale": {"domain": ["s", "o"], "range": [14, 24]}, "legend": null},
  "stroke": {"value": "black"}
 }},
{"data": {"name": "one"}, "mark": {"type": "text", "align": "left", "baseline": "middle", "font": "Liberation Sans", "fontSize": 21, "fill": "black"},
 "encoding": {"x": {"datum": -8, "type": "quantitative", "axis": {"title": "Day of year–Día del año", "values": [0, 100, 200, 300], "titleX": 564, "titleY": 65, "titleBaseline": "alphabetic", "titleAlign": "center"}}, "y": {"datum": 21.6, "type": "quantitative", "axis": {"title": "CPS–CPL", "values": [0, 5, 10, 15, 20], "titleX": -60, "titleY": -46, "titleBaseline": "alphabetic", "titleAlign": "center", "titleAngle": -90}}, "text": {"value": "SKJ"}}},
{"data": {"name": "one"}, "mark": {"type": "text", "align": "right", "baseline": "middle", "font": "Liberation Sans", "fontSize": 21, "fill": "black"},
 "encoding": {"x": {"datum": 367.8, "type": "quantitative", "axis": {"title": "Day of year–Día del año", "values": [0, 100, 200, 300], "titleX": 564, "titleY": 65, "titleBaseline": "alphabetic", "titleAlign": "center"}}, "y": {"datum": 22.3, "type": "quantitative", "axis": {"title": "CPS–CPL", "values": [0, 5, 10, 15, 20], "titleX": -60, "titleY": -46, "titleBaseline": "alphabetic", "titleAlign": "center", "titleAngle": -90}}, "text": {"value": "OBJ50+"}}}
]
}
],
"config": {
 "font": "Liberation Sans",
 "view": {"stroke": "black", "strokeWidth": 2},
 "axis": {"domain": false, "grid": false, "labelFont": "Liberation Sans", "labelFontSize": 20, "labelColor": "black", "tickColor": "black", "tickWidth": 1.5, "titleFont": "Liberation Sans", "titleFontSize": 29, "titleFontWeight": "normal", "titleColor": "black"},
 "axisX": {"offset": 1, "tickSize": 5, "labelPadding": 13},
 "axisY": {"offset": 1, "tickSize": 4, "labelPadding": 8}
}
}
